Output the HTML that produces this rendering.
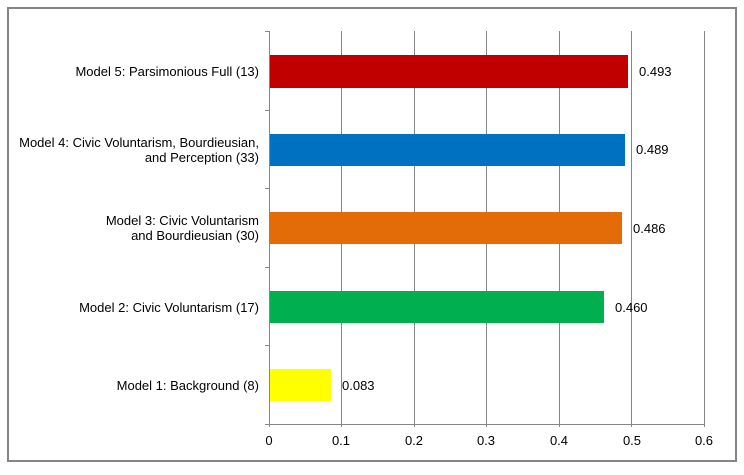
<!DOCTYPE html>
<html><head><style>
body{margin:0;background:#fff}
text{font-family:"Liberation Sans",Arial,sans-serif;font-size:13px;fill:#000}
</style></head><body>
<svg width="744" height="470" xmlns="http://www.w3.org/2000/svg">
<rect x="0" y="0" width="744" height="470" fill="#fff"/>
<rect x="8" y="8" width="728" height="453" fill="#fff" stroke="#858585" stroke-width="2"/>
<g stroke="#868686" stroke-width="1">
<line x1="341.5" y1="31" x2="341.5" y2="427"/>
<line x1="414.5" y1="31" x2="414.5" y2="427"/>
<line x1="486.5" y1="31" x2="486.5" y2="427"/>
<line x1="559.5" y1="31" x2="559.5" y2="427"/>
<line x1="631.5" y1="31" x2="631.5" y2="427"/>
<line x1="704.5" y1="31" x2="704.5" y2="427"/>
<line x1="269.5" y1="31" x2="269.5" y2="427"/>
<line x1="265" y1="424.5" x2="705" y2="424.5"/>
<line x1="265" y1="31.5" x2="269" y2="31.5"/>
<line x1="265" y1="110.5" x2="269" y2="110.5"/>
<line x1="265" y1="188.5" x2="269" y2="188.5"/>
<line x1="265" y1="267.5" x2="269" y2="267.5"/>
<line x1="265" y1="345.5" x2="269" y2="345.5"/>
</g>
<rect x="270" y="55" width="358" height="33" fill="#c00000"/>
<rect x="270" y="134" width="355" height="32" fill="#0070c0"/>
<rect x="270" y="212" width="352" height="32" fill="#e36c09"/>
<rect x="270" y="291" width="334" height="32" fill="#00b050"/>
<rect x="270" y="369" width="61" height="32" fill="#ffff00"/>
<text x="639" y="76">0.493</text>
<text x="636" y="154">0.489</text>
<text x="633" y="233">0.486</text>
<text x="615" y="312">0.460</text>
<text x="342" y="390">0.083</text>
<g text-anchor="end">
<text x="259" y="76">Model 5: Parsimonious Full (13)</text>
<text x="259" y="147">Model 4: Civic Voluntarism, Bourdieusian,</text>
<text x="259" y="162">and Perception (33)</text>
<text x="259" y="225">Model 3: Civic Voluntarism</text>
<text x="259" y="240">and Bourdieusian (30)</text>
<text x="259" y="312">Model 2: Civic Voluntarism (17)</text>
<text x="259" y="390">Model 1: Background (8)</text>
</g>
<g text-anchor="middle">
<text x="269" y="445">0</text>
<text x="341" y="445">0.1</text>
<text x="414" y="445">0.2</text>
<text x="486" y="445">0.3</text>
<text x="559" y="445">0.4</text>
<text x="632" y="445">0.5</text>
<text x="704" y="445">0.6</text>
</g>
</svg>
</body></html>
